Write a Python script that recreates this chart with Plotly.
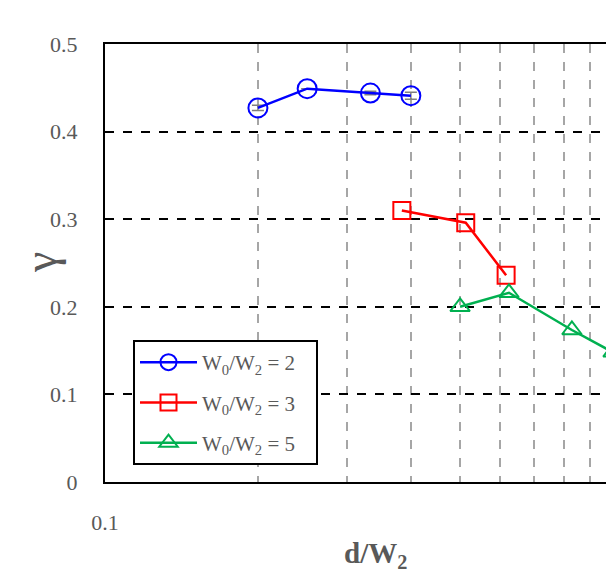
import plotly.graph_objects as go
import math

# Data
blue_x = [0.2, 0.25, 0.333, 0.4]
blue_y = [0.427, 0.449, 0.444, 0.441]
blue_err = [0.003, 0.0, 0.002, 0.004]
red_x = [0.384, 0.513, 0.616]
red_y = [0.310, 0.296, 0.236]
green_x = [0.5, 0.624, 0.83, 1.0]
green_y = [0.200, 0.216, 0.1735, 0.148]
names = ["W<sub>0</sub>/W<sub>2</sub> = 2", "W<sub>0</sub>/W<sub>2</sub> = 3", "W<sub>0</sub>/W<sub>2</sub> = 5"]
x_grid = [0.1, 0.2, 0.3, 0.4, 0.5, 0.6, 0.7, 0.8, 0.9]
x_labels = ["0.1", "", "", "", "", "", "", "", ""]
y_ticks = [0, 0.1, 0.2, 0.3, 0.4, 0.5]
y_labels = ["0", "0.1", "0.2", "0.3", "0.4", "0.5"]

FONT = "Liberation Serif"
GREY = "#595959"
PAD = "&nbsp;&nbsp;&nbsp;"

fig = go.Figure()
fig.add_trace(go.Scatter(
    x=blue_x, y=blue_y, name=names[0] + PAD, legendgroup="a", mode="lines+markers",
    line=dict(color="#0000FF", width=2.5),
    marker=dict(symbol="circle-open", size=19, color="#0000FF", line=dict(width=2)),
    error_y=dict(type="data", array=blue_err, color="#7f7f7f", thickness=1.5, width=6),
))
fig.add_trace(go.Scatter(
    x=red_x, y=red_y, name=names[1] + PAD, legendgroup="b", mode="lines+markers",
    line=dict(color="#FF0000", width=2.5),
    marker=dict(symbol="square-open", size=17, color="#FF0000", line=dict(width=2)),
))
fig.add_trace(go.Scatter(
    x=green_x, y=green_y, name=names[2] + PAD, legendgroup="c", mode="lines+markers",
    line=dict(color="#00B050", width=2.5),
    marker=dict(symbol="triangle-up-open", size=17, color="#00B050", line=dict(width=2)),
))

L, T, B = 105, 44, 92
W, H = 606, 574
plot_w = W - L
decade = 508.0
x_hi = -1 + plot_w / decade

fig.update_layout(
    width=W, height=H,
    margin=dict(l=L, r=0, t=T, b=B, pad=0),
    paper_bgcolor="white", plot_bgcolor="white",
    font=dict(family=FONT, color=GREY, size=21),
    showlegend=True,
    legend=dict(
        x=(133 - L) / plot_w, y=(H - B - 340) / (H - T - B), xanchor="left", yanchor="top",
        bgcolor="white", bordercolor="black", borderwidth=2,
        font=dict(family=FONT, size=21, color=GREY),
        traceorder="grouped", tracegroupgap=10, itemwidth=57,
    ),
    xaxis=dict(
        type="log", range=[-1, x_hi],
        tickvals=x_grid, ticktext=x_labels,
        showgrid=True, gridcolor="#a6a6a6", griddash="dash", gridwidth=1.5,
        showline=True, linecolor="black", linewidth=2, mirror=True,
        ticks="", ticklabelstandoff=20, zeroline=False,
        tickfont=dict(family=FONT, size=22, color=GREY),
    ),
    yaxis=dict(
        range=[0, 0.5], tickvals=y_ticks, ticktext=y_labels,
        showgrid=True, gridcolor="black", griddash="dash", gridwidth=1.5,
        showline=True, linecolor="black", linewidth=2, mirror=False,
        ticks="", ticklabelstandoff=21, zeroline=False,
        tickfont=dict(family=FONT, size=22, color=GREY),
    ),
    annotations=[
        dict(text="<b>d/W<sub>2</sub></b>", xref="paper", yref="paper",
             x=(375 - L) / plot_w, y=-(555 - (H - B)) / (H - T - B),
             xanchor="center", yanchor="middle", showarrow=False,
             font=dict(family=FONT, size=29, color=GREY)),
        dict(text="γ", xref="paper", yref="paper",
             x=-(L - 40) / plot_w, y=0.5, textangle=-90,
             xanchor="center", yanchor="middle", showarrow=False,
             font=dict(family=FONT, size=46, color=GREY)),
    ],
)

fig.write_html("out.html")
